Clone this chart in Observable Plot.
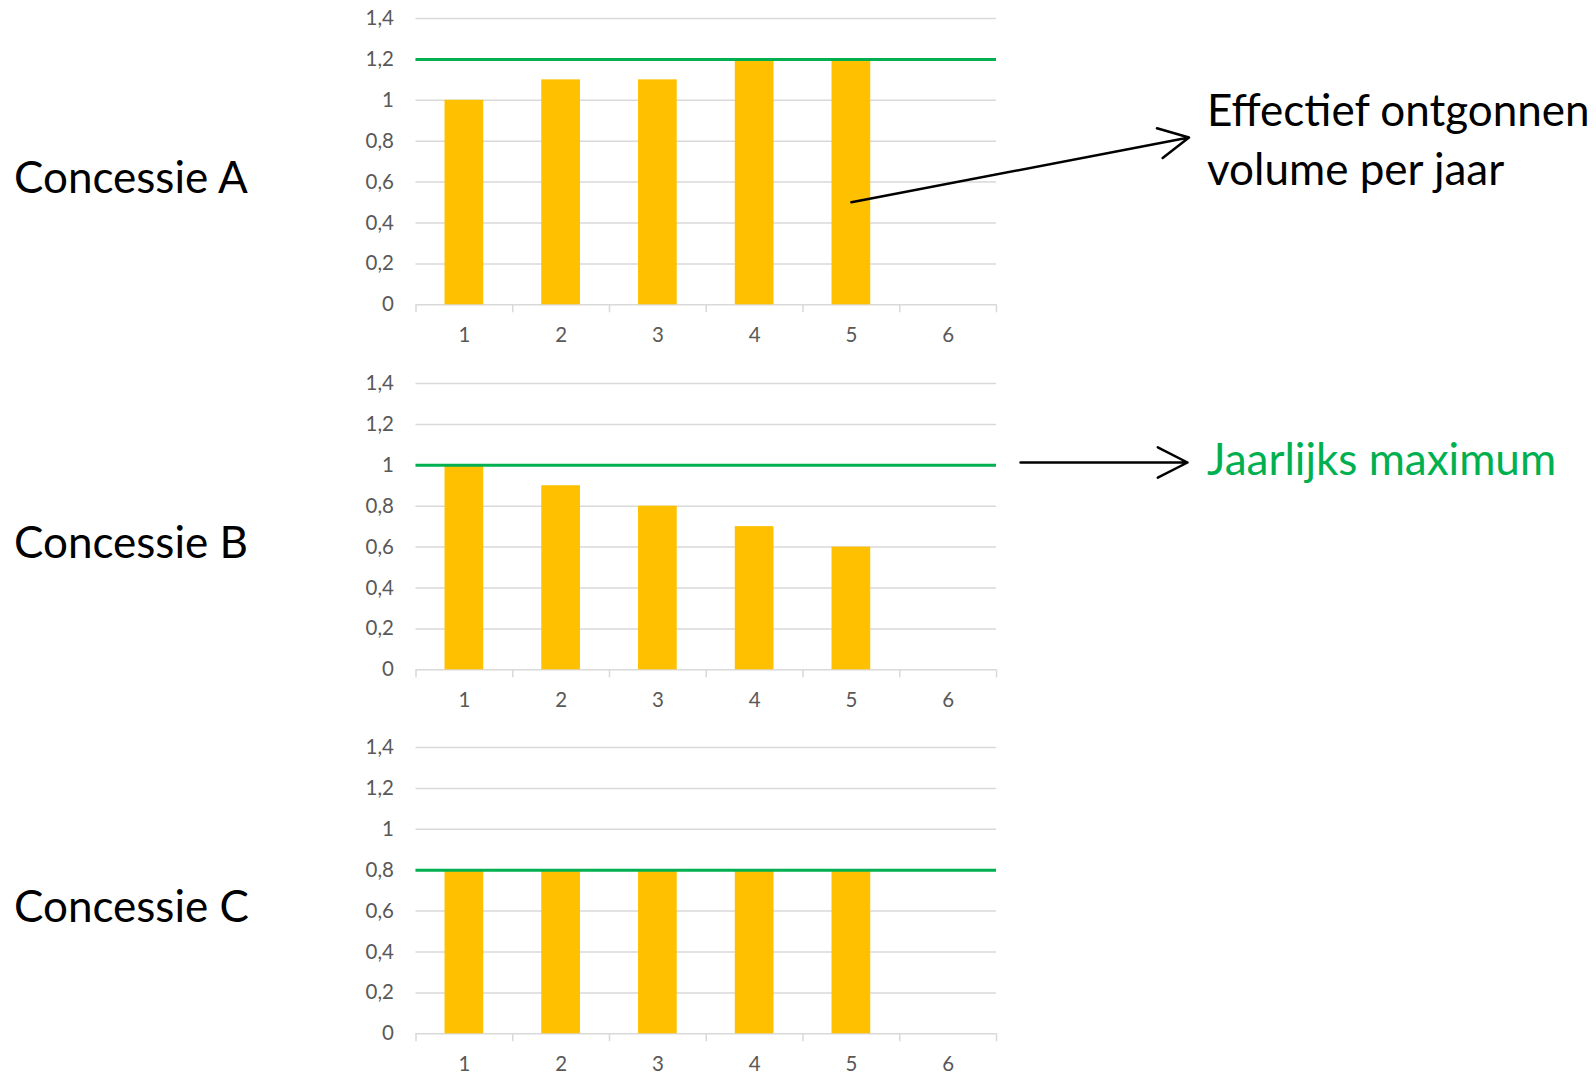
<!DOCTYPE html>
<html><head><meta charset="utf-8">
<script src="https://cdn.jsdelivr.net/npm/d3@7"></script>
<script src="https://cdn.jsdelivr.net/npm/@observablehq/plot@0.6"></script>
<style>
html,body{margin:0;padding:0;background:#fff;overflow:hidden;}
#root{position:relative;width:1596px;height:1076px;overflow:hidden;background:#fff;}
.panel{position:absolute;left:0;}
.lbl{position:absolute;font-family:Lato,sans-serif;font-size:44px;line-height:1.2;color:#000;white-space:nowrap;}
</style></head><body><div id="root"></div>
<script>
// ---- data ----
const years = [1, 2, 3, 4, 5, 6];
const concessies = ["Concessie A", "Concessie B", "Concessie C"];
const volumeA = [1.0, 1.1, 1.1, 1.2, 1.2, null];
const volumeB = [1.0, 0.9, 0.8, 0.7, 0.6, null];
const volumeC = [0.8, 0.8, 0.8, 0.8, 0.8, null];
const maxima = [1.2, 1.0, 0.8];
const yTicks = [0, 0.2, 0.4, 0.6, 0.8, 1.0, 1.2, 1.4];
const annotVolume = ["Effectief ontgonnen", "volume per jaar"];
const annotMax = "Jaarlijks maximum";
const annotAnchor = {year: 5, value: 0.5};

// ---- layout ----
const root = document.getElementById("root");
const W = 1010, mL = 415.5, mR = 14, mT = 20, plotH = 286.3, mB = 50;
const plotTops = [17.7, 382.7, 746.7];
const step = (W - mL - mR) / years.length;
const fmt = d => d3.format(".1~f")(d).replace(".", ",");
const series = [volumeA, volumeB, volumeC];
const charts = [];

series.forEach((vals, k) => {
  const data = years.map((y, i) => ({year: y, value: vals[i]})).filter(d => d.value != null);
  const chart = Plot.plot({
    width: W, height: mT + plotH + mB,
    marginLeft: mL, marginRight: mR, marginTop: mT, marginBottom: mB,
    style: {fontFamily: "Lato, sans-serif", fontSize: "20.5px", color: "#595959", background: "transparent", overflow: "visible"},
    x: {type: "band", domain: years, paddingInner: 0.6, paddingOuter: 0.3, round: false},
    y: {domain: [0, 1.4]},
    marks: [
      Plot.ruleY(yTicks, {stroke: "#d9d9d9", strokeWidth: 1.5}),
      Plot.ruleX(years, {x: d => d, y1: 0, y2: 0, insetBottom: -8, dx: -step / 2, stroke: "#d9d9d9", strokeWidth: 1.5}),
      Plot.ruleX(years.slice(-1), {x: d => d, y1: 0, y2: 0, insetBottom: -8, dx: step / 2, stroke: "#d9d9d9", strokeWidth: 1.5}),
      Plot.barY(data, {x: "year", y: "value", fill: "#FFC000"}),
      Plot.ruleY([maxima[k]], {stroke: "#00B050", strokeWidth: 3}),
      Plot.axisY({ticks: yTicks, tickSize: 0, tickPadding: 22, tickFormat: fmt, label: null}),
      Plot.axisX({tickSize: 0, tickPadding: 23, label: null})
    ]
  });
  chart.classList.add("panel");
  chart.style.top = (plotTops[k] - mT) + "px";
  root.appendChild(chart);
  charts.push(chart);

  const lbl = document.createElement("div");
  lbl.className = "lbl";
  lbl.textContent = concessies[k];
  lbl.style.left = "14px";
  lbl.style.top = (149.9 + (plotTops[k] - plotTops[0])) + "px";
  root.appendChild(lbl);
});

// ---- annotations ----
const xs = charts[0].scale("x"), ys = charts[0].scale("y");
const startX = xs.apply(annotAnchor.year) + xs.bandwidth / 2;
const startY = ys.apply(annotAnchor.value) + (plotTops[0] - mT);
const arrows = [
  {x1: startX, y1: startY, x2: 1188.5, y2: 137},
  {x1: 1020, y1: 462, x2: 1187, y2: 462}
];
const overlay = Plot.plot({
  width: 1596, height: 1076, margin: 0, axis: null,
  style: {background: "transparent"},
  x: {type: "identity"}, y: {type: "identity"},
  marks: [
    Plot.arrow(arrows, {x1: "x1", y1: "y1", x2: "x2", y2: "y2", stroke: "#000", strokeWidth: 2.5, headLength: 20, headAngle: 54})
  ]
});
overlay.style.position = "absolute";
overlay.style.left = "0px";
overlay.style.top = "0px";
overlay.style.pointerEvents = "none";
root.appendChild(overlay);

const t1 = document.createElement("div");
t1.className = "lbl";
t1.style.left = "1207px";
t1.style.top = "80px";
t1.style.lineHeight = "59.3px";
t1.innerHTML = annotVolume.join("<br>");
root.appendChild(t1);

const t2 = document.createElement("div");
t2.className = "lbl";
t2.style.left = "1207px";
t2.style.top = "431.6px";
t2.style.color = "#00B050";
t2.textContent = annotMax;
root.appendChild(t2);
</script></body></html>
